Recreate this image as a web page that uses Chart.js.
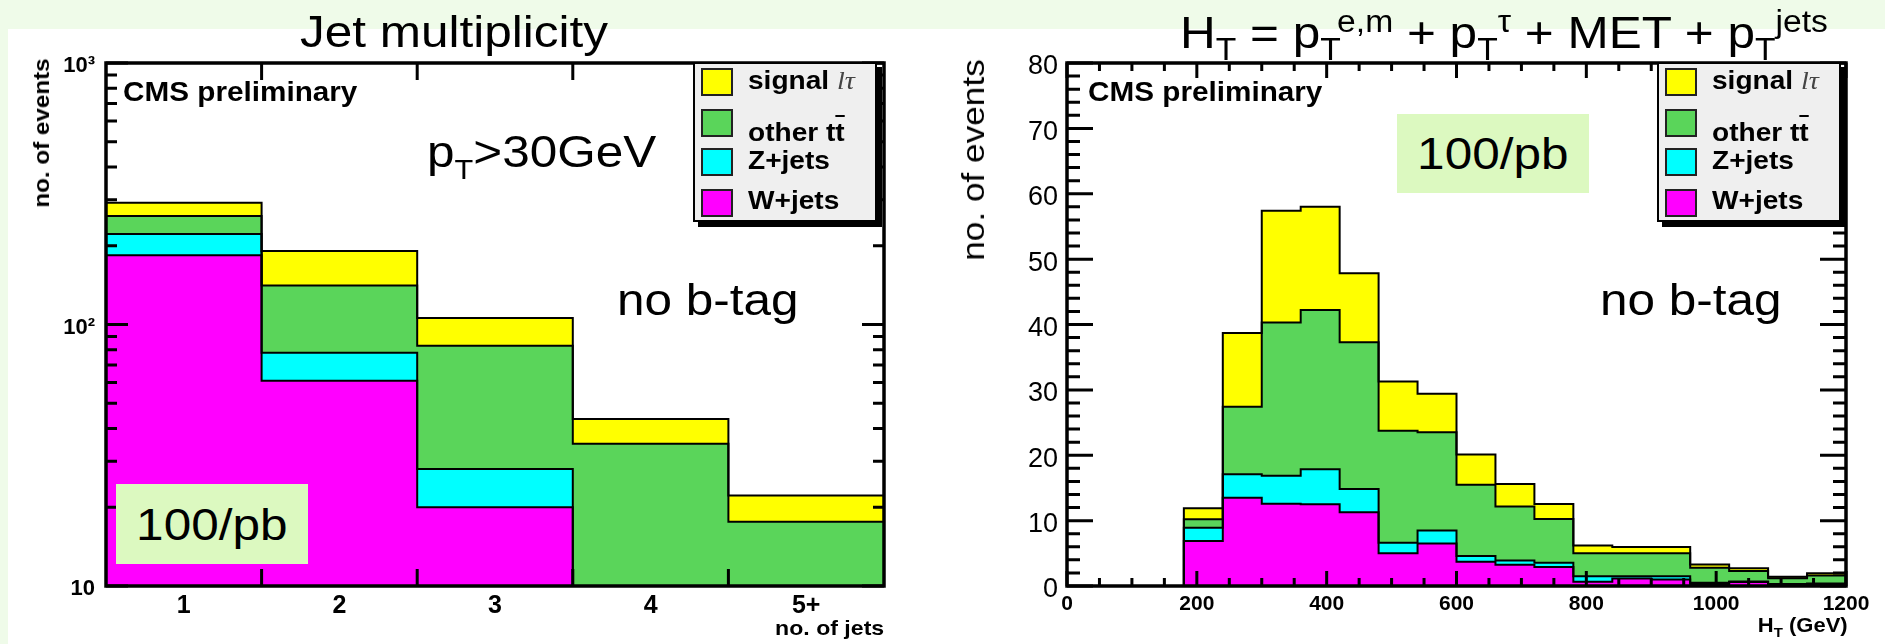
<!DOCTYPE html>
<html>
<head>
<meta charset="utf-8">
<title>Jet multiplicity / HT</title>
<script src="https://cdn.jsdelivr.net/npm/chart.js@4.4.1/dist/chart.umd.min.js"></script>
<style>
  html, body { margin: 0; padding: 0; }
  body {
    width: 1885px; height: 644px; position: relative; overflow: hidden;
    background: #effbe9; color: #000;
    font-family: 'Liberation Sans', Arial, Helvetica, sans-serif;
  }
  #sheet { position: absolute; left: 8px; top: 29px; right: 0; bottom: 0; background: #fff; }
  canvas { position: absolute; top: 0; }
  .txt { position: absolute; white-space: nowrap; line-height: 1; transform-origin: 0 0; transform: scaleX(1.1); }
  .txt.r { transform-origin: 100% 0; }
  .big { font-size: 45px; }
  .sb { font-size: 0.68em; position: relative; top: 0.39em; }
  .sp { font-size: 0.68em; position: relative; top: -0.52em; }
  .cms { font-size: 27px; font-weight: bold; }
  .vtxt { position: absolute; white-space: nowrap; line-height: 1; transform: translate(-50%, -50%) rotate(-90deg) scaleX(1.1); }
  .lumi { position: absolute; width: 192px; height: 80px; background: #dcf9c0; display: flex; align-items: center; justify-content: center; }
  .lumi span { font-size: 45px; line-height: 1; display: inline-block; transform: scaleX(1.1); }
  .legend { position: absolute; width: 180px; height: 156px; background: #efefef; border: 2px solid #000; box-shadow: 5px 5px 0 #000; }
  .legend .sw { position: absolute; left: 6px; width: 32px; height: 28px; box-sizing: border-box; border: 2px solid #222; }
  .legend .lt { position: absolute; left: 53px; font-size: 26px; font-weight: bold; line-height: 1; white-space: nowrap; transform-origin: 0 0; transform: scaleX(1.08); }
  .legend .it { font-family: 'Liberation Serif', 'Times New Roman', serif; font-style: italic; font-weight: normal; color: #444; }
  .ov { text-decoration: overline; }
</style>
</head>
<body>
<div id="sheet"></div>
<canvas id="jetChart" width="940" height="644" style="left:0"></canvas>
<canvas id="htChart" width="945" height="644" style="left:940px"></canvas>

<div class="txt big" style="left:300px; top:9px;">Jet multiplicity</div>
<div class="txt big" style="left:1180px; top:10px;">H<span class="sb">T</span> = p<span class="sb">T</span><span class="sp">e,m</span> + p<span class="sb">T</span><span class="sp">&tau;</span> + MET + p<span class="sb">T</span><span class="sp">jets</span></div>

<div class="vtxt" style="left:42px; top:133px; font-size:22px; font-weight:bold;">no. of events</div>
<div class="vtxt" style="left:973px; top:160px; font-size:32px;">no. of events</div>

<div class="txt cms" style="left:123px; top:79px;">CMS preliminary</div>
<div class="txt cms" style="left:1088px; top:79px;">CMS preliminary</div>

<div class="txt big" style="left:427px; top:129px;">p<span class="sb" style="font-size:0.62em; top:0.42em">T</span>&gt;30GeV</div>
<div class="txt big" style="left:617px; top:277px;">no b-tag</div>
<div class="txt big" style="left:1600px; top:277px;">no b-tag</div>

<div class="lumi" style="left:116px; top:484px;"><span>100/pb</span></div>
<div class="lumi" style="left:1397px; top:114px; height:79px;"><span>100/pb</span></div>

<div class="txt r" style="right:1001px; top:617px; font-size:21px; font-weight:bold;">no. of jets</div>
<div class="txt r" style="right:37px; top:615px; font-size:20px; font-weight:bold;">H<span class="sb">T</span> (GeV)</div>

<div class="legend" id="jetLegend" style="left:693px; top:62px;"></div>
<div class="legend" id="htLegend" style="left:1657px; top:62px;"></div>

<script>
// processes, stacked bottom to top
const processNames = ['W+jets', 'Z+jets', 'other t<span class="ov">t</span>', 'signal <span class="it">l&tau;</span>'];
const processColors = ['#ff00ff', '#00ffff', '#5ad55a', '#ffff00'];

// jet multiplicity (log scale)
const jetBins = ['1', '2', '3', '4', '5+'];
const jetWjets = [184, 61, 20, 0, 0];
const jetZjets = [38, 17, 8, 0, 0];
const jetOtherTT = [38, 63, 55, 35, 17.6];
const jetSignal = [32, 50, 23, 8.5, 4.6];
const jetYTicks = [10, 100, 1000];
const jetYLabels = ['10', '10\u00b2', '10\u00b3'];

// HT distribution, 60 GeV bins
const htEdges = [0, 60, 120, 180, 240, 300, 360, 420, 480, 540, 600, 660, 720, 780, 840, 900, 960, 1020, 1080, 1140, 1200];
const htWjets = [0, 0, 0, 6.9, 13.5, 12.6, 12.5, 11.3, 5.0, 6.5, 3.7, 3.25, 2.9, 0.65, 1.15, 1.0, 0.3, 0.6, 0.1, 0.2];
const htZjets = [0, 0, 0, 2.0, 3.6, 4.25, 5.35, 3.55, 1.6, 2.0, 0.9, 0.65, 0.65, 0.85, 0.35, 0.5, 0.2, 0.1, 0.2, 0.2];
const htOtherTT = [0, 0, 0, 1.3, 10.3, 23.45, 24.35, 22.45, 17.15, 15.0, 10.9, 8.25, 6.7, 3.5, 3.5, 3.5, 2.3, 1.6, 0.9, 1.2];
const htSignal = [0, 0, 0, 1.7, 11.3, 17.1, 15.8, 10.55, 7.55, 5.9, 4.6, 3.45, 2.3, 1.2, 0.95, 0.95, 0.5, 0.4, 0.2, 0.35];
const htXTicks = [0, 200, 400, 600, 800, 1000, 1200];
const htXLabels = ['0', '200', '400', '600', '800', '1000', '1200'];
const htYTicks = [0, 10, 20, 30, 40, 50, 60, 70, 80];

const fontFamily = "'Liberation Sans', Arial, Helvetica, sans-serif";

// running sums, one array per layer
function cumulate(series) {
    let run = series[0].map(() => 0);
    return series.map(s => {
        run = run.map((v, i) => v + s[i]);
        return run;
    });
}

// histogram outline as step points on the bin edges
function stepPoints(edges, vals, floor) {
    const pts = vals.map((v, i) => ({ x: edges[i], y: Math.max(v, floor) }));
    pts.push({ x: edges[vals.length], y: Math.max(vals[vals.length - 1], floor) });
    return pts;
}

function layers(edges, series, floor) {
    return cumulate(series).map((vals, k) => ({
        label: processNames[k],
        data: stepPoints(edges, vals, floor),
        stepped: 'before',
        borderColor: '#000',
        borderWidth: 2,
        backgroundColor: processColors[k],
        fill: k === 0 ? 'origin' : '-1',
        pointRadius: 0,
        tension: 0
    }));
}

// root style frame with inward ticks on all four sides
const rootFrame = {
    id: 'rootFrame',
    afterDatasetsDraw(chart, args, opts) {
        const { ctx, chartArea: a, scales: { x, y } } = chart;
        ctx.save();
        ctx.strokeStyle = '#000';
        ctx.lineWidth = 3;
        ctx.beginPath();
        opts.yTicks.forEach(([v, len]) => {
            const py = y.getPixelForValue(v);
            ctx.moveTo(a.left, py); ctx.lineTo(a.left + len, py);
            ctx.moveTo(a.right, py); ctx.lineTo(a.right - len, py);
        });
        opts.xTicks.forEach(([v, len]) => {
            const px = x.getPixelForValue(v);
            ctx.moveTo(px, a.bottom); ctx.lineTo(px, a.bottom - len);
            ctx.moveTo(px, a.top); ctx.lineTo(px, a.top + len);
        });
        ctx.stroke();
        ctx.lineWidth = 3.5;
        ctx.strokeRect(a.left, a.top, a.right - a.left, a.bottom - a.top);
        ctx.restore();
    }
};

const noGrid = { display: false, drawTicks: false };

// ---- left: jet multiplicity ----
const jetEdges = jetBins.map((_, i) => i + 0.5).concat(jetBins.length + 0.5);
const jetYMarks = [];
jetYTicks.forEach(v => jetYMarks.push([v, 22]));
for (let d = 10; d < 1000; d *= 10) {
    for (let m = 2; m <= 9; m++) jetYMarks.push([m * d, 11]);
}
const jetXMarks = jetEdges.slice(1, -1).map(v => [v, 17]);

new Chart(document.getElementById('jetChart'), {
    type: 'line',
    data: { datasets: layers(jetEdges, [jetWjets, jetZjets, jetOtherTT, jetSignal], 1) },
    options: {
        responsive: false,
        animation: false,
        layout: { padding: { left: 0, right: 56, top: 63, bottom: 0 } },
        plugins: {
            legend: { display: false },
            tooltip: { enabled: false },
            filler: { drawTime: 'beforeDatasetsDraw' },
            rootFrame: { xTicks: jetXMarks, yTicks: jetYMarks }
        },
        scales: {
            x: {
                type: 'linear', min: 0.5, max: 5.5,
                afterBuildTicks: s => { s.ticks = jetBins.map((_, i) => ({ value: i + 1 })); },
                afterFit: s => { s.height = 58; },
                ticks: {
                    autoSkip: false, maxRotation: 0, padding: 8, color: '#000',
                    font: { family: fontFamily, size: 25, weight: 'bold', lineHeight: 1 },
                    callback: (v, i) => jetBins[i]
                },
                grid: noGrid, border: { display: false }
            },
            y: {
                type: 'logarithmic', min: 10, max: 1000,
                afterBuildTicks: s => { s.ticks = jetYTicks.map(v => ({ value: v })); },
                afterFit: s => { s.width = 106; },
                ticks: {
                    autoSkip: false, padding: 11, labelOffset: 3, color: '#000',
                    font: { family: fontFamily, size: 22, weight: 'bold' },
                    callback: (v, i) => jetYLabels[i]
                },
                grid: noGrid, border: { display: false }
            }
        }
    },
    plugins: [rootFrame]
});

// ---- right: HT ----
const htXMarks = [];
for (let v = 0; v <= 1200; v += 50) htXMarks.push([v, v % 200 === 0 ? 15 : 8]);
const htYMarks = [];
for (let v = 0; v <= 80; v += 2) htYMarks.push([v, v % 10 === 0 ? 26 : 13]);

new Chart(document.getElementById('htChart'), {
    type: 'line',
    data: { datasets: layers(htEdges, [htWjets, htZjets, htOtherTT, htSignal], 0) },
    options: {
        responsive: false,
        animation: false,
        layout: { padding: { left: 0, right: 39, top: 63, bottom: 0 } },
        plugins: {
            legend: { display: false },
            tooltip: { enabled: false },
            filler: { drawTime: 'beforeDatasetsDraw' },
            rootFrame: { xTicks: htXMarks, yTicks: htYMarks }
        },
        scales: {
            x: {
                type: 'linear', min: 0, max: 1200,
                afterBuildTicks: s => { s.ticks = htXTicks.map(v => ({ value: v })); },
                afterFit: s => { s.height = 58; },
                ticks: {
                    autoSkip: false, maxRotation: 0, padding: 8, color: '#000',
                    font: { family: fontFamily, size: 21, weight: 'bold', lineHeight: 1 },
                    callback: (v, i) => htXLabels[i]
                },
                grid: noGrid, border: { display: false }
            },
            y: {
                type: 'linear', min: 0, max: 80,
                afterBuildTicks: s => { s.ticks = htYTicks.map(v => ({ value: v })); },
                afterFit: s => { s.width = 127; },
                ticks: {
                    autoSkip: false, padding: 9, labelOffset: 4, color: '#000',
                    font: { family: fontFamily, size: 27 },
                    callback: v => String(v)
                },
                grid: noGrid, border: { display: false }
            }
        }
    },
    plugins: [rootFrame]
});

// legends, top entry first
const swatchTops = [4, 45, 84, 125];
const textTops = [3, 55, 83, 123];
['jetLegend', 'htLegend'].forEach(id => {
    const box = document.getElementById(id);
    [3, 2, 1, 0].forEach((k, row) => {
        box.insertAdjacentHTML('beforeend',
            `<div class="sw" style="top:${swatchTops[row]}px; background:${processColors[k]}"></div>` +
            `<div class="lt" style="top:${textTops[row]}px">${processNames[k]}</div>`);
    });
});
</script>
</body>
</html>
